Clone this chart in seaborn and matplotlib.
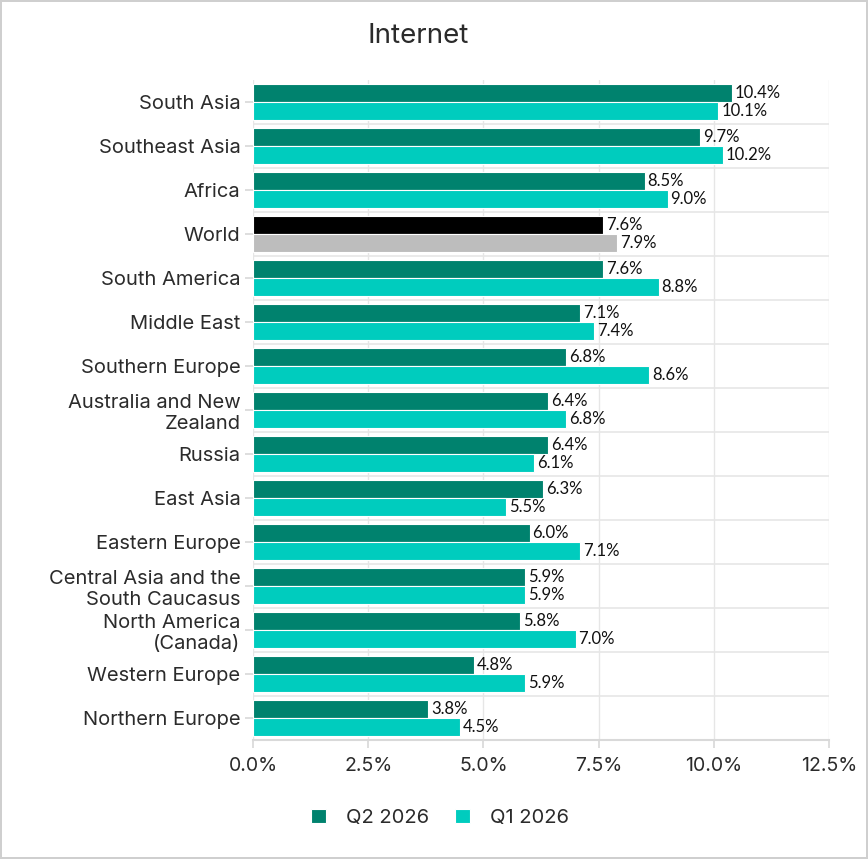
import pandas as pd
import matplotlib.pyplot as plt
import seaborn as sns
from matplotlib.ticker import FuncFormatter, MultipleLocator

# data
regions = ["South Asia", "Southeast Asia", "Africa", "World", "South America",
           "Middle East", "Southern Europe", "Australia and New\nZealand", "Russia",
           "East Asia", "Eastern Europe", "Central Asia and the\nSouth Caucasus",
           "North America\n(Canada)", "Western Europe", "Northern Europe"]
q2_2026 = [10.4, 9.7, 8.5, 7.6, 7.6, 7.1, 6.8, 6.4, 6.4, 6.3, 6.0, 5.9, 5.8, 4.8, 3.8]
q1_2026 = [10.1, 10.2, 9.0, 7.9, 8.8, 7.4, 8.6, 6.8, 6.1, 5.5, 7.1, 5.9, 7.0, 5.9, 4.5]
periods = ["Q2 2026", "Q1 2026"]

df = pd.concat([
    pd.DataFrame({"region": regions, "value": q2_2026, "period": periods[0]}),
    pd.DataFrame({"region": regions, "value": q1_2026, "period": periods[1]}),
])

sns.set_theme(style="white")
plt.rcParams["font.family"] = ["Inter", "DejaVu Sans"]

txt = "#2b2b2b"
fig = plt.figure(figsize=(8.68, 8.59), dpi=100)
fig.patch.set_edgecolor("#cfcfcf")
fig.patch.set_linewidth(1.5)
ax = fig.add_axes([0.2915, 0.1385, 0.6636, 0.7684])

palette = {"Q2 2026": "#00826E", "Q1 2026": "#00CCBE"}
sns.barplot(data=df, x="value", y="region", hue="period", palette=palette,
            width=0.82, ax=ax, edgecolor="white", linewidth=0.8, saturation=1)

# World bars highlighted
n = len(regions)
wi = regions.index("World")
ax.patches[wi].set_facecolor("#000000")
ax.patches[n + wi].set_facecolor("#BDBDBD")

for cont in ax.containers:
    ax.bar_label(cont, labels=[f"{v:.1f}%" for v in cont.datavalues],
                 padding=2, fontsize=12, color="#111111", family=["Lato", "DejaVu Sans"])

ax.set_xlim(0, 12.5)
ax.set_ylim(n - 0.5, -0.5)
ax.xaxis.set_major_locator(MultipleLocator(2.5))
ax.xaxis.set_major_formatter(FuncFormatter(lambda v, p: f"{v:.1f}%"))
ax.set_yticks(range(n))
ax.set_yticks([i + 0.5 for i in range(n - 1)], minor=True)
ax.grid(axis="x", which="major", color="#e6e6e6", linewidth=1)
ax.grid(axis="y", which="minor", color="#e6e6e6", linewidth=1.2)
ax.set_axisbelow(True)
for s in ["top", "right", "left"]:
    ax.spines[s].set_visible(False)
ax.spines["bottom"].set_color("#d9d9d9")
ax.spines["bottom"].set_linewidth(1.5)
ax.tick_params(axis="y", which="major", length=6, color="#d9d9d9", labelsize=14.5,
               labelcolor=txt, pad=3, left=True)
ax.tick_params(axis="y", which="minor", length=0)
ax.tick_params(axis="x", length=6, color="#d9d9d9", labelsize=14, labelcolor=txt,
               pad=6, bottom=True)
for lab in ax.get_yticklabels():
    lab.set_linespacing(1.2)
    lab.set_y(lab.get_position()[1])
ax.set_xlabel("")
ax.set_ylabel("")

fig.text(0.482, 0.958, "Internet", ha="center", va="center", fontsize=20, color=txt)

handles, labels = ax.get_legend_handles_labels()
ax.legend(handles, labels, loc="center", bbox_to_anchor=(0.507, 0.048),
          bbox_transform=fig.transFigure, ncol=2, frameon=False, fontsize=14.5,
          handlelength=0.75, handleheight=0.75, handletextpad=1.0, columnspacing=1.3,
          labelcolor=txt)

fig.savefig("out.png", dpi=100)
